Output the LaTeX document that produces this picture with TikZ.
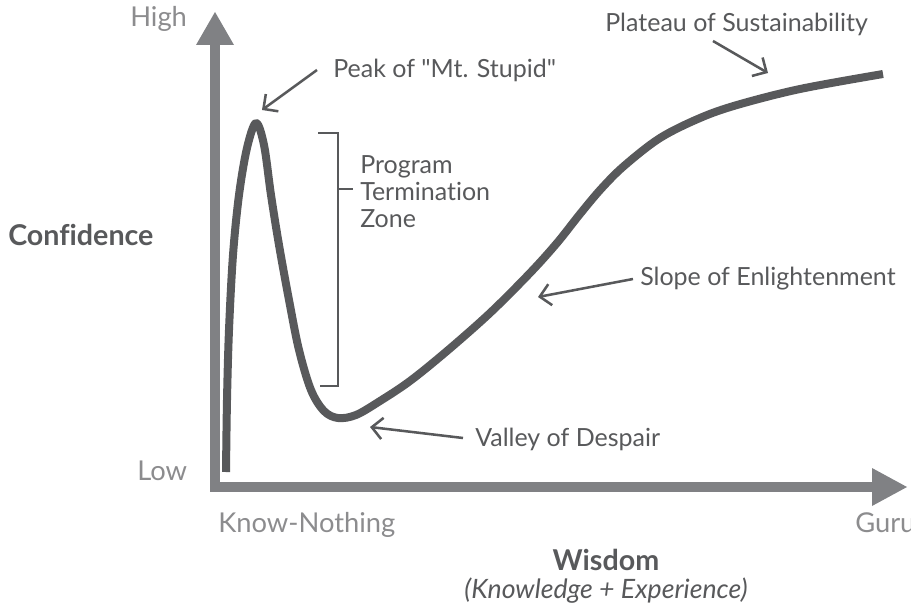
\documentclass[tikz,border=0pt]{standalone}
\usepackage{fontspec}
\setmainfont{Lato}[Ligatures={TeXOff,NoCommon}]
\usetikzlibrary{arrows.meta}
\definecolor{inkc}{HTML}{58595B}
\definecolor{axisc}{HTML}{808184}
\definecolor{lightc}{HTML}{8C8C8E}
\begin{document}
\begin{tikzpicture}[x=0.75pt,y=-0.75pt,
  curve/.style={draw=inkc, line width=6pt, line cap=butt, line join=round},
  axisline/.style={draw=axisc, line width=7.5pt, line join=miter},
  note/.style={draw=inkc, line width=1.9pt,
    -{Straight Barb[length=8pt,width=16pt,line width=1.9pt]}},
  bracket/.style={draw=inkc, line width=1.5pt},
  lbl/.style={text=inkc, font=\fontsize{18.75}{19.9}\selectfont, inner sep=0pt, anchor=base west},
  tick/.style={text=lightc, font=\fontsize{20.5}{22}\selectfont, inner sep=0pt, anchor=base west},
  ttl/.style={text=inkc, font=\bfseries\fontsize{21.5}{25}\selectfont, inner sep=0pt},
  sub/.style={text=inkc, font=\itshape\fontsize{20}{22}\selectfont, inner sep=0pt, anchor=base}]
\useasboundingbox (0,0) rectangle (911,610);

% axes
\coordinate (origin) at (215,487);
\coordinate (ybase) at (215,45);
\coordinate (xbase) at (872,487);
\coordinate (ytip) at (215,12);
\coordinate (xtip) at (907,487);
\draw[axisline] (ybase) -- (origin) -- (xbase);
\fill[axisc] ([xshift=-14.25pt]ybase) -- (ytip) -- ([xshift=14.25pt]ybase) -- cycle;
\fill[axisc] ([yshift=14.25pt]xbase) -- (xtip) -- ([yshift=-14.25pt]xbase) -- cycle;

% axis labels
\node[tick] (high) at (130,27) {High};
\node[tick] (low) at (137,480) {Low};
\node[tick] (novice) at (218,532) {Know-Nothing};
\node[tick] (guru) at (855,532) {Guru};
\node[ttl, anchor=base west] (conf) at (8,245) {Confidence};
\node[ttl, anchor=base] (wis) at (606,570) {Wisdom};
\node[sub] (wissub) at (606,598) {(Knowledge + Experience)};

% the confidence curve
\draw[curve] plot[smooth, tension=0.55] coordinates {
  (226,472) (227,400) (229,330) (233,255) (239,195) (247,148) (256,123)
  (264,145) (271,195) (279,245) (289,300) (299,350) (311,390) (324,411)
  (338,418) (356,415) (380,401) (410,381) (447,351) (490,313) (530,273)
  (557,243) (580,214) (601,189) (624,166) (660,138) (700,118) (737,105)
  (800,89) (883,74)};

% termination bracket
\draw[bracket] (318,133) -- (338,133) -- (338,386) -- (320,386);
\draw[bracket] (338,189) -- (353,189);
\node[lbl, align=left] (zone) at (360,227) {Program\\Termination\\Zone};

% annotations
\coordinate (peaktip) at (262,110);
\coordinate (plateautip) at (768,73);
\coordinate (slopetip) at (538,297);
\coordinate (valleytip) at (370,427);
\node[lbl] (peak) at (333,78) {Peak of "Mt. Stupid"};
\node[lbl] (plateau) at (605,32) {Plateau of Sustainability};
\node[lbl] (slope) at (640,285) {Slope of Enlightenment};
\node[lbl] (valley) at (475,446) {Valley of Despair};
\draw[note] ([xshift=-12pt,yshift=6pt]peak.base west) -- (peaktip);
\draw[note] ([xshift=81pt,yshift=-6.75pt]plateau.base west) -- (plateautip);
\draw[note] ([xshift=-5.25pt,yshift=4.5pt]slope.base west) -- (slopetip);
\draw[note] ([xshift=-9pt,yshift=6pt]valley.base west) -- (valleytip);
\end{tikzpicture}
\end{document}
